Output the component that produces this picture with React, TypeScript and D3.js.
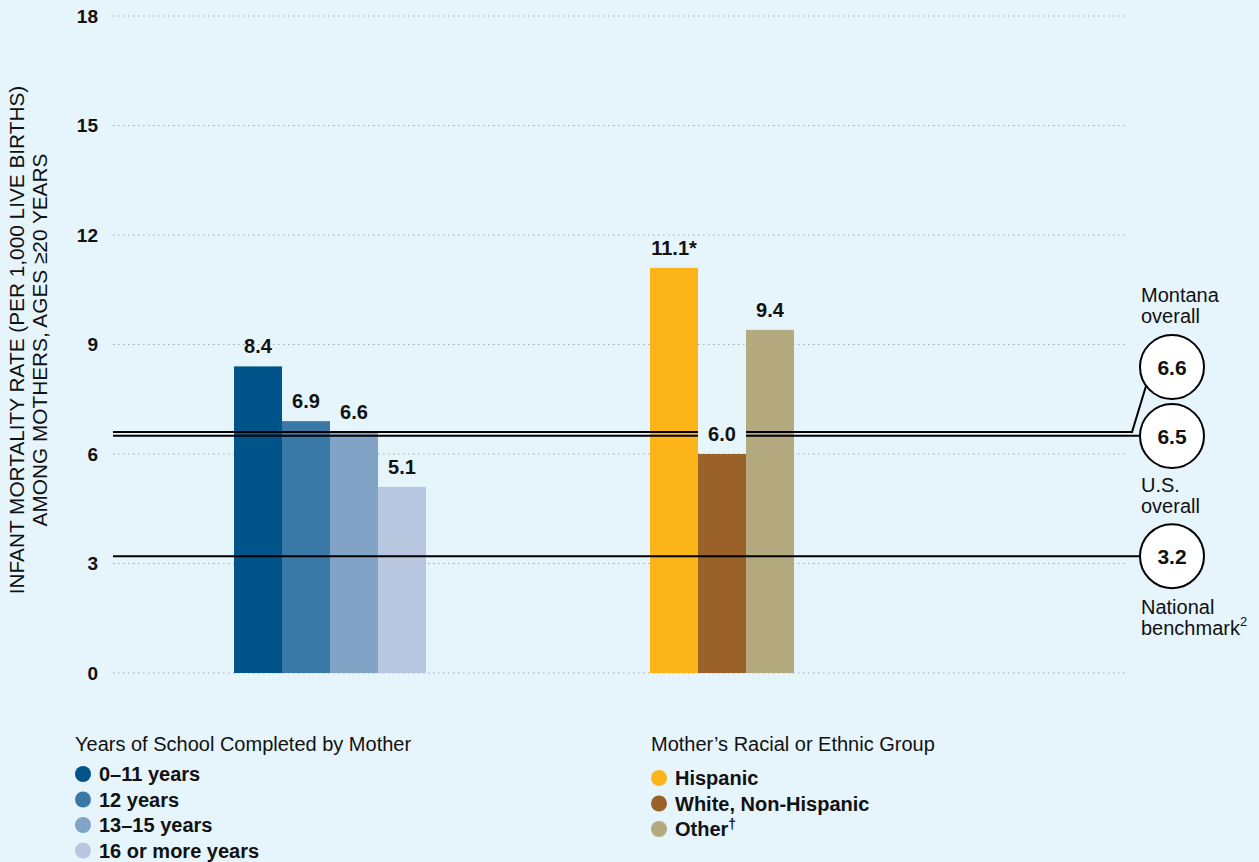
import React from "react";
import * as d3 from "d3";

const schoolCategories = ["0–11 years", "12 years", "13–15 years", "16 or more years"];
const schoolValues = [8.4, 6.9, 6.6, 5.1];
const schoolLabels = ["8.4", "6.9", "6.6", "5.1"];
const schoolColors = ["#00548a", "#3a78a8", "#80a3c6", "#b8c7df"];

const raceCategories = ["Hispanic", "White, Non-Hispanic", "Other"];
const raceValues = [11.1, 6.0, 9.4];
const raceLabels = ["11.1*", "6.0", "9.4"];
const raceColors = ["#fbb518", "#9a6128", "#b5aa7f"];

const yTicks = [0, 3, 6, 9, 12, 15, 18];

const refNames = ["Montana overall", "U.S. overall", "National benchmark"];
const refValues = [6.6, 6.5, 3.2];

const W = 1259;
const H = 862;
const FONT = "'Liberation Sans', Arial, Helvetica, sans-serif";
const FS = 20;

export default function App() {
  const y = d3.scaleLinear().domain([0, 18]).range([673, 16]);
  const xSchool = d3.scaleBand<string>().domain(schoolCategories).range([234, 426]).padding(0);
  const xRace = d3.scaleBand<string>().domain(raceCategories).range([650, 794]).padding(0);
  const bg = "#e6f4fc";
  const circX = 1172;
  const circR = 32;
  const montanaCY = 367;
  const usCY = 436;
  const benchCY = y(refValues[2]);

  return (
    <svg
      width={W}
      height={H}
      style={{ position: "absolute", left: 0, top: 0, display: "block", background: bg }}
      fontFamily={FONT}
    >
      <rect x={0} y={0} width={W} height={H} fill={bg} />
      {/* grid */}
      {yTicks.map((t) => (
        <g key={t}>
          <line x1={113} x2={1127} y1={y(t)} y2={y(t)} stroke="#a9a9a9" strokeWidth={1} strokeDasharray="1.5,3.5" />
          <text x={98} y={y(t)} dy="0.36em" textAnchor="end" fontSize={19} fontWeight="bold" fill="#111">
            {t}
          </text>
        </g>
      ))}
      {/* y axis title */}
      <text transform={`translate(24,340) rotate(-90)`} textAnchor="middle" fontSize={20.8} fill="#111">
        INFANT MORTALITY RATE (PER 1,000 LIVE BIRTHS)
      </text>
      <text transform={`translate(47,340) rotate(-90)`} textAnchor="middle" fontSize={20.8} fill="#111">
        AMONG MOTHERS, AGES ≥20 YEARS
      </text>

      {/* bars */}
      {schoolCategories.map((c, i) => (
        <rect key={c} x={xSchool(c)} y={y(schoolValues[i])} width={xSchool.bandwidth()} height={y(0) - y(schoolValues[i])} fill={schoolColors[i]} />
      ))}
      {raceCategories.map((c, i) => (
        <rect key={c} x={xRace(c)} y={y(raceValues[i])} width={xRace.bandwidth()} height={y(0) - y(raceValues[i])} fill={raceColors[i]} />
      ))}

      {/* reference lines */}
      <line x1={113} x2={1133} y1={y(refValues[0])} y2={y(refValues[0])} stroke="#000" strokeWidth={2} />
      <line x1={1132} x2={1146} y1={y(refValues[0])} y2={montanaCY + 19} stroke="#000" strokeWidth={2} />
      <line x1={113} x2={circX - circR} y1={y(refValues[1])} y2={y(refValues[1])} stroke="#000" strokeWidth={2} />
      <line x1={113} x2={circX - circR} y1={benchCY} y2={benchCY} stroke="#000" strokeWidth={2} />

      {/* value labels */}
      {schoolCategories.map((c, i) => (
        <text key={c} x={(xSchool(c) as number) + xSchool.bandwidth() / 2} y={y(schoolValues[i]) - 13} textAnchor="middle" fontSize={FS} fontWeight="bold" fill="#111">
          {schoolLabels[i]}
        </text>
      ))}
      {raceCategories.map((c, i) => {
        const cx = (xRace(c) as number) + xRace.bandwidth() / 2;
        const ty = y(raceValues[i]) - 13;
        return (
          <g key={c}>
            {raceLabels[i] === "6.0" && <rect x={cx - 24} y={ty - 20} width={48} height={25} fill={bg} />}
            <text x={cx} y={ty} textAnchor="middle" fontSize={FS} fontWeight="bold" fill="#111">
              {raceLabels[i]}
            </text>
          </g>
        );
      })}

      {/* circles */}
      {[
        { cy: montanaCY, v: refValues[0] },
        { cy: usCY, v: refValues[1] },
        { cy: benchCY, v: refValues[2] },
      ].map((d, i) => (
        <g key={i}>
          <circle cx={circX} cy={d.cy} r={circR} fill="#fff" stroke="#000" strokeWidth={2} />
          <text x={circX} y={d.cy} dy="0.36em" textAnchor="middle" fontSize={21} fontWeight="bold" fill="#111">
            {d.v.toFixed(1)}
          </text>
        </g>
      ))}
      <g fontSize={FS} fill="#111">
        <text x={1141} y={302}>Montana</text>
        <text x={1141} y={323}>overall</text>
        <text x={1141} y={492}>U.S.</text>
        <text x={1141} y={513}>overall</text>
        <text x={1141} y={614}>National</text>
        <text x={1141} y={635}>
          benchmark<tspan dy={-9} fontSize={13}>2</tspan>
        </text>
      </g>

      {/* legends */}
      <text x={75} y={751} fontSize={FS} fill="#111">Years of School Completed by Mother</text>
      {schoolCategories.map((c, i) => (
        <g key={c}>
          <circle cx={83} cy={774 + i * 25.5} r={8} fill={schoolColors[i]} />
          <text x={99} y={774 + i * 25.5} dy="0.36em" fontSize={FS} fontWeight="bold" fill="#111">
            {c}
          </text>
        </g>
      ))}
      <text x={651} y={751} fontSize={FS} fill="#111">Mother’s Racial or Ethnic Group</text>
      {raceCategories.map((c, i) => (
        <g key={c}>
          <circle cx={659} cy={778 + i * 25.5} r={8} fill={raceColors[i]} />
          <text x={675} y={778 + i * 25.5} dy="0.36em" fontSize={FS} fontWeight="bold" fill="#111">
            {c}
            {c === "Other" && <tspan dy={-7} fontSize={14}>†</tspan>}
          </text>
        </g>
      ))}
    </svg>
  );
}
